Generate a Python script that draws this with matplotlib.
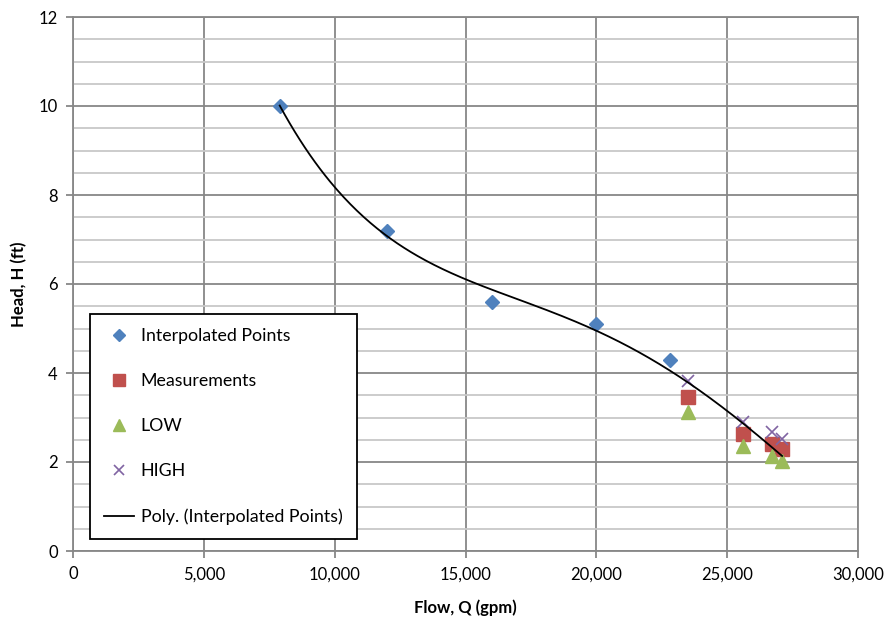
import numpy as np
import matplotlib

matplotlib.use("Agg")
import matplotlib.pyplot as plt  # noqa: E402
from matplotlib.ticker import FuncFormatter, MultipleLocator  # noqa: E402

plt.rcParams["font.family"] = ["Lato", "DejaVu Sans"]

# pontos
interp_q = [7900, 12000, 16000, 20000, 22800]
interp_h = [10.0, 7.2, 5.6, 5.1, 4.3]

med_q = [23500, 25600, 26700, 27100]
med_h = [3.47, 2.62, 2.40, 2.29]
low_h = [3.13, 2.36, 2.14, 2.03]
high_h = [3.83, 2.89, 2.67, 2.52]

# amostras da linha de tendência (poly.)
trend_q = [7900, 10000, 12000, 15000, 17000, 20000, 22800, 25000, 27100]
trend_h = [10.0, 8.19, 7.10, 6.07, 5.64, 4.98, 4.10, 3.08, 2.16]

AZUL, VERM, VERDE, ROXO = "#4F81BD", "#C0504D", "#9BBB59", "#8064A2"
GRID_MAJ, GRID_MIN = "#878787", "#C8C8C8"

fig = plt.figure(figsize=(8.91, 6.19), dpi=100)
ax = fig.add_axes([73 / 891, 68 / 619, 785 / 891, 534 / 619])

coef = np.polyfit(trend_q, trend_h, 4)
qq = np.linspace(min(trend_q), max(trend_q), 300)

ax.plot(interp_q, interp_h, "D", color=AZUL, ms=7.5, ls="none",
        label="Interpolated Points", zorder=3)
ax.plot(med_q, med_h, "s", color=VERM, ms=10, ls="none",
        label="Measurements", zorder=3)
ax.plot(med_q, low_h, "^", color=VERDE, ms=10.5, ls="none",
        label="LOW", zorder=3)
ax.plot(med_q, high_h, "x", color=ROXO, ms=9, mew=1.2, ls="none",
        label="HIGH", zorder=3)
ax.plot(qq, np.polyval(coef, qq), color="black", lw=1.3,
        label="Poly. (Interpolated Points)", zorder=4)

ax.set_xlim(0, 30000)
ax.set_ylim(0, 12)
ax.xaxis.set_major_locator(MultipleLocator(5000))
ax.yaxis.set_major_locator(MultipleLocator(2))
ax.yaxis.set_minor_locator(MultipleLocator(0.5))
ax.xaxis.set_major_formatter(FuncFormatter(lambda v, p: f"{int(v):,}"))

ax.grid(which="major", color=GRID_MAJ, lw=1.3, zorder=0)
ax.grid(which="minor", axis="y", color=GRID_MIN, lw=1.3, zorder=0)
ax.set_axisbelow(True)
for s in ax.spines.values():
    s.set_color(GRID_MAJ)
    s.set_linewidth(1.3)

ax.tick_params(which="major", length=5, width=1.3, color=GRID_MAJ,
               labelsize=12, pad=6)
ax.tick_params(which="minor", length=0)

ax.set_xlabel("Flow, Q (gpm)", fontsize=12, fontweight="bold", labelpad=12)
ax.set_ylabel("Head, H (ft)", fontsize=12, fontweight="bold", labelpad=8)

leg = ax.legend(loc="lower left", bbox_to_anchor=(17 / 785, 12 / 534),
                fontsize=12.8, frameon=True, fancybox=False, borderpad=0.8,
                labelspacing=1.63, handlelength=1.7, handletextpad=0.35,
                borderaxespad=0, markerscale=0.85)
leg.get_frame().set_edgecolor("black")
leg.get_frame().set_linewidth(1.3)
leg.get_frame().set_alpha(1)

fig.savefig("out.png", dpi=100)
